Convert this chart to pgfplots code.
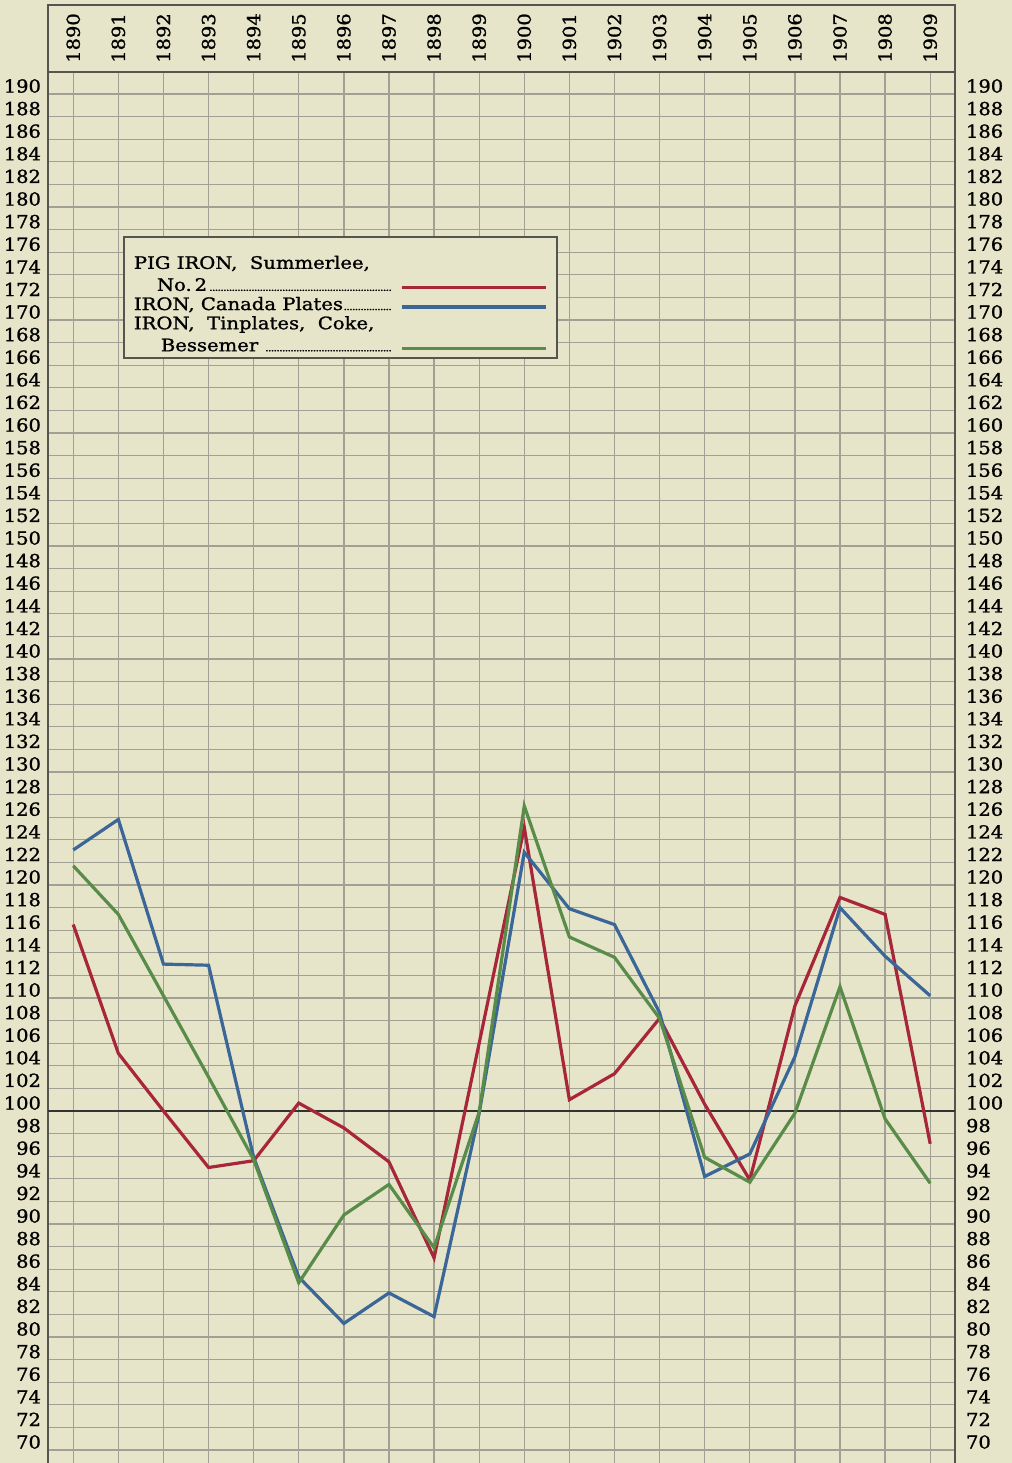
\documentclass[border=0pt]{standalone}
\usepackage{pgfplots}
\pgfplotsset{compat=1.18}
\usepackage{pgfplotstable}
\usepackage{fontspec}
\setmainfont{DejaVu Serif}
\newfontfamily\legfont[FakeStretch=1.14,FakeBold=1.2]{DejaVu Serif}
\newfontfamily\numfont[FakeStretch=1.08,FakeBold=1.2]{DejaVu Serif}
\definecolor{paper}{RGB}{231,229,201}
\definecolor{gridc}{RGB}{160,160,148}
\definecolor{cred}{RGB}{168,38,58}
\definecolor{cblue}{RGB}{58,102,152}
\definecolor{cgreen}{RGB}{88,140,72}
\definecolor{framec}{RGB}{85,85,80}
\pagecolor{paper}
\newcommand\ls{\vrule height 8.1pt depth 2.9pt width 0pt}
\newcommand\lsf{\vrule height 14pt depth 2.9pt width 0pt}
\newcommand\lsl{\vrule height 8.1pt depth 8pt width 0pt}
\newcommand\dfill{\leaders\hbox to 1.4pt{\hss{\fontsize{5}{5}\selectfont.}\hss}\hfill\mbox{}}

\pgfplotstableread{
year red blue green
1890 116.5 123.1 121.7
1891 105.1 125.8 117.4
1892 100.0 113.0 110.2
1893 95.0 112.9 103.0
1894 95.6 95.9 95.7
1895 100.7 85.3 84.8
1896 98.5 81.2 90.8
1897 95.5 83.9 93.5
1898 87.0 81.8 87.9
1899 106.0 99.8 99.9
1900 125.1 122.9 127.0
1901 101.0 117.9 115.4
1902 103.3 116.5 113.6
1903 108.2 108.7 108.2
1904 100.6 94.2 95.9
1905 93.9 96.2 93.7
1906 109.3 104.8 99.8
1907 118.9 118.0 111.0
1908 117.4 113.7 99.3
1909 97.1 110.2 93.6
}\datatable

\pgfplotsset{chartbase/.style={
  scale only axis, width=453.5pt, height=711.6pt,
  xmin=1889.44, xmax=1909.55, ymin=66, ymax=191.95,
  major tick length=0pt,
  /pgf/number format/assume math mode=true,
  /pgf/number format/1000 sep={},
  tick label style={font=\numfont\fontsize{9}{10}\selectfont},
}}

\begin{document}
\begin{tikzpicture}
\begin{axis}[chartbase,
  axis background/.style={fill=paper},
  xtick={1890,1891,...,1909},
  xticklabel pos=upper,
  x tick label style={rotate=90, anchor=center, xshift=17pt},
  ytick={70,72,...,190},
  extra y ticks={66,68},
  extra y tick labels={},
  extra y tick style={grid=major},
  yticklabel pos=left,
  y tick label style={yshift=4pt},
  xmajorgrids, ymajorgrids,
  grid style={gridc, line width=0.65pt},
  axis line style={framec, line width=1.2pt},
  legend plot pos=right,
  legend image code/.code={\draw[#1] (0pt,1.5pt) -- (72pt,1.5pt);},
  legend style={at={(0.0827,0.8848)}, anchor=north west, draw=framec,
    line width=0.9pt, fill=paper,
    font=\legfont\fontsize{8.6}{11}\selectfont,
    inner xsep=5pt, inner ysep=2pt, row sep=0pt, column sep=4pt,
    cells={anchor=base west}, nodes={inner sep=0pt}},
]
\addplot[black!80, line width=1.1pt, forget plot] coordinates {(1889.44,100) (1909.55,100)};
\addplot[cred, line width=1.6pt] table[x=year, y=red] {\datatable};
\addlegendentry{\parbox[b]{129pt}{\lsf PIG IRON,\ \ Summerlee,\\\ls\hspace*{11.5pt}No.\,2\dfill}}
\addplot[cblue, line width=1.6pt] table[x=year, y=blue] {\datatable};
\addlegendentry{\parbox[b]{129pt}{\ls IRON, Canada Plates\dfill}}
\addplot[cgreen, line width=1.6pt] table[x=year, y=green] {\datatable};
\addlegendentry{\parbox[b]{129pt}{\ls IRON,\ \ Tinplates,\ \ Coke,\\\lsl\hspace*{13.5pt}Bessemer \dfill}}
\end{axis}
\begin{axis}[chartbase,
  axis x line=none,
  axis y line*=right,
  y axis line style={draw=none},
  xtick=\empty,
  ytick={70,72,...,190},
  yticklabel pos=right,
  y tick label style={yshift=4pt, anchor=west, xshift=2pt},
]
\end{axis}
\draw[framec, line width=1.2pt] (current axis.north west) rectangle ([yshift=33.5pt]current axis.north east);
\pgfresetboundingbox
\path[use as bounding box] ([xshift=-24pt,yshift=16.1pt]current axis.south west) rectangle ([xshift=28.5pt,yshift=36pt]current axis.north east);
\end{tikzpicture}
\end{document}
